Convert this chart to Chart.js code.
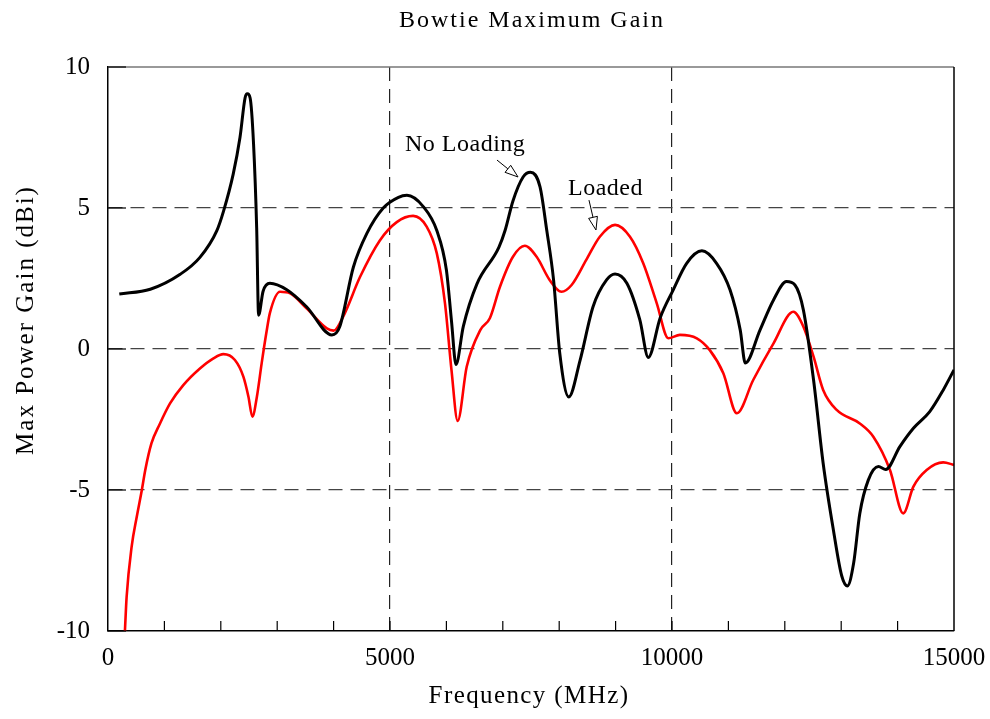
<!DOCTYPE html>
<html>
<head>
<meta charset="utf-8">
<script src="https://cdn.jsdelivr.net/npm/chart.js@4.4.1/dist/chart.umd.min.js"></script>
<style>
  body { margin: 0; background: #fff; }
  #wrap { width: 990px; height: 719px; }
</style>
</head>
<body>
<div id="wrap"><canvas id="gainChart" width="990" height="719"></canvas></div>
<script>
// Bowtie max gain
const freqNoLoading = [200, 750, 1280, 1630, 1930, 2050, 2220, 2340, 2430, 2470, 2520, 2580, 2636, 2670, 2750, 2870, 3170, 3520, 3970, 4110, 4350, 4590, 4880, 5150, 5300, 5590, 5830, 6000, 6090, 6170, 6300, 6540, 6930, 7040, 7180, 7360, 7490, 7660, 7780, 7900, 8010, 8170, 8370, 8600, 8840, 8990, 9200, 9430, 9580, 9790, 10020, 10260, 10530, 10790, 11030, 11210, 11300, 11560, 11800, 12030, 12180, 12330, 12510, 12680, 12860, 13010, 13110, 13220, 13330, 13480, 13660, 13790, 14040, 14280, 14570, 14810, 15000];
const gainNoLoading = [1.95, 2.12, 2.65, 3.25, 4.2, 4.9, 6.2, 7.5, 8.9, 9.05, 8.9, 7.3, 4.3, 1.2, 2.05, 2.33, 2.1, 1.5, 0.5, 0.8, 2.9, 4.1, 5.0, 5.38, 5.45, 5.05, 4.2, 2.8, 1.0, -0.55, 0.8, 2.3, 3.6, 4.2, 5.25, 6.1, 6.27, 5.75, 4.2, 2.45, -0.15, -1.7, -0.4, 1.5, 2.45, 2.66, 2.33, 1.03, -0.3, 1.1, 2.09, 3.04, 3.48, 3.04, 2.09, 0.67, -0.5, 0.67, 1.74, 2.39, 2.27, 1.38, -1.1, -4.05, -6.4, -8.05, -8.4, -7.6, -5.83, -4.65, -4.17, -4.27, -3.46, -2.81, -2.22, -1.45, -0.74];

const freqLoaded = [300, 330, 420, 510, 600, 660, 770, 920, 1100, 1335, 1630, 1870, 2045, 2250, 2400, 2490, 2560, 2640, 2725, 2810, 2870, 3050, 3230, 3520, 3880, 4000, 4170, 4470, 4820, 5120, 5410, 5650, 5830, 5975, 6090, 6200, 6360, 6600, 6770, 6950, 7180, 7390, 7600, 7830, 8040, 8220, 8480, 8720, 8990, 9255, 9490, 9730, 9935, 10140, 10440, 10670, 10910, 11150, 11440, 11800, 12150, 12330, 12510, 12680, 12920, 13330, 13570, 13865, 14100, 14280, 14515, 14810, 15000];
const gainLoaded = [-10, -8.8, -7.0, -5.95, -5.0, -4.3, -3.35, -2.65, -1.93, -1.28, -0.69, -0.33, -0.18, -0.39, -0.98, -1.69, -2.4, -1.69, -0.5, 0.6, 1.27, 2.03, 1.97, 1.44, 0.73, 0.65, 1.15, 2.56, 3.85, 4.5, 4.72, 4.34, 3.39, 1.62, -0.74, -2.55, -0.63, 0.67, 1.09, 2.21, 3.27, 3.66, 3.27, 2.45, 2.03, 2.27, 3.16, 3.98, 4.4, 3.98, 3.04, 1.62, 0.38, 0.5, 0.38, -0.04, -0.86, -2.28, -1.1, 0.2, 1.32, 0.79, -0.27, -1.45, -2.16, -2.64, -3.11, -4.29, -5.83, -4.88, -4.29, -4.02, -4.11];

const xLabelValues = [0, 5000, 10000, 15000];
const yLabelValues = [-10, -5, 0, 5, 10];

const seriesNames = ['No Loading', 'Loaded'];

const FONT = '"Liberation Serif", "Times New Roman", serif';

function toPoints(xs, ys) {
  return xs.map((x, i) => ({ x: x, y: ys[i] }));
}

// text + hollow arrow callouts, positions in data units
const callouts = [
  { text: seriesNames[0], tx: 5266, ty: 7.23, from: [6897, 6.70], to: [7270, 6.10] },
  { text: seriesNames[1], tx: 8156, ty: 5.67, from: [8528, 5.28], to: [8652, 4.22] }
];

const framePlugin = {
  id: 'frame',
  afterDraw(chart) {
    const ctx = chart.ctx;
    const a = chart.chartArea;
    const xs = chart.scales.x, ys = chart.scales.y;
    ctx.save();

    // top border (gray) and right border (black)
    ctx.lineWidth = 1.5;
    ctx.strokeStyle = '#777';
    ctx.beginPath(); ctx.moveTo(a.left, a.top); ctx.lineTo(a.right, a.top); ctx.stroke();
    ctx.strokeStyle = '#000';
    ctx.beginPath(); ctx.moveTo(a.right, a.top); ctx.lineTo(a.right, a.bottom); ctx.stroke();

    // inward minor ticks along bottom
    ctx.lineWidth = 1.2;
    for (let v = 1000; v < 15000; v += 1000) {
      const px = xs.getPixelForValue(v);
      ctx.beginPath(); ctx.moveTo(px, a.bottom); ctx.lineTo(px, a.bottom - 10); ctx.stroke();
    }
    // inward ticks along left
    yLabelValues.forEach(v => {
      const py = ys.getPixelForValue(v);
      ctx.beginPath(); ctx.moveTo(a.left, py); ctx.lineTo(a.left + 18, py); ctx.stroke();
    });

    // titles
    ctx.fillStyle = '#000';
    ctx.textAlign = 'center';
    ctx.textBaseline = 'middle';
    ctx.letterSpacing = '2px';
    ctx.font = '24px ' + FONT;
    ctx.fillText('Bowtie Maximum Gain', 532, 21);
    ctx.save();
    ctx.translate(26, 320);
    ctx.rotate(-Math.PI / 2);
    ctx.font = '25px ' + FONT;
    ctx.fillText('Max Power Gain (dBi)', 0, 0);
    ctx.restore();
    ctx.letterSpacing = '1.4px';
    ctx.font = '25px ' + FONT;
    ctx.fillText('Frequency (MHz)', 529, 696);

    // callouts
    ctx.letterSpacing = '0.5px';
    ctx.font = '24px ' + FONT;
    ctx.textAlign = 'left';
    callouts.forEach(c => {
      ctx.fillStyle = '#000';
      ctx.fillText(c.text, xs.getPixelForValue(c.tx), ys.getPixelForValue(c.ty));
      const x0 = xs.getPixelForValue(c.from[0]), y0 = ys.getPixelForValue(c.from[1]);
      const x1 = xs.getPixelForValue(c.to[0]), y1 = ys.getPixelForValue(c.to[1]);
      const ang = Math.atan2(y1 - y0, x1 - x0);
      const hl = 13, hw = 4.5;
      const bx = x1 - hl * Math.cos(ang), by = y1 - hl * Math.sin(ang);
      ctx.strokeStyle = '#000';
      ctx.lineWidth = 1;
      ctx.beginPath(); ctx.moveTo(x0, y0); ctx.lineTo(bx, by); ctx.stroke();
      ctx.beginPath();
      ctx.moveTo(x1, y1);
      ctx.lineTo(bx + hw * Math.sin(ang), by - hw * Math.cos(ang));
      ctx.lineTo(bx - hw * Math.sin(ang), by + hw * Math.cos(ang));
      ctx.closePath();
      ctx.fillStyle = '#fff';
      ctx.fill();
      ctx.stroke();
    });
    ctx.restore();
  }
};

const ctx = document.getElementById('gainChart').getContext('2d');
const gainChart = new Chart(ctx, {
  type: 'line',
  data: {
    datasets: [{
      label: seriesNames[0],
      data: toPoints(freqNoLoading, gainNoLoading),
      borderColor: '#000000',
      borderWidth: 3,
      pointRadius: 0,
      cubicInterpolationMode: 'monotone',
      fill: false
    }, {
      label: seriesNames[1],
      data: toPoints(freqLoaded, gainLoaded),
      borderColor: '#ff0000',
      borderWidth: 2.6,
      pointRadius: 0,
      cubicInterpolationMode: 'monotone',
      fill: false
    }]
  },
  options: {
    responsive: false,
    animation: false,
    layout: { padding: { top: 67, right: 36, left: 0, bottom: 0 } },
    plugins: {
      legend: { display: false },
      title: { display: false },
      tooltip: { enabled: false }
    },
    scales: {
      x: {
        type: 'linear',
        min: 0,
        max: 15000,
        afterFit: scale => {
          scale.height = 88;
          scale.paddingLeft = 0;
          scale.paddingRight = 0;
        },
        ticks: {
          stepSize: 1000,
          autoSkip: false,
          maxRotation: 0,
          padding: 12,
          color: '#000',
          font: { family: FONT, size: 25 },
          callback: v => xLabelValues.includes(v) ? String(v) : ''
        },
        grid: {
          drawTicks: false,
          lineWidth: 1.2,
          color: c => (c.tick && (c.tick.value === 5000 || c.tick.value === 10000)) ? '#222' : 'rgba(0,0,0,0)'
        },
        border: { display: true, color: '#000', width: 1.5, dash: [14, 8] }
      },
      y: {
        min: -10,
        max: 10,
        afterFit: scale => {
          scale.width = 108;
          scale.paddingTop = 0;
          scale.paddingBottom = 0;
        },
        ticks: {
          stepSize: 5,
          padding: 18,
          color: '#000',
          font: { family: FONT, size: 25 },
          callback: v => yLabelValues.includes(v) ? String(v) : ''
        },
        grid: {
          drawTicks: false,
          lineWidth: 1.2,
          color: c => (c.tick && c.tick.value > -10 && c.tick.value < 10) ? '#444' : 'rgba(0,0,0,0)'
        },
        border: { display: true, color: '#000', width: 1.5, dash: [14, 8] }
      }
    }
  },
  plugins: [framePlugin]
});
</script>
</body>
</html>
